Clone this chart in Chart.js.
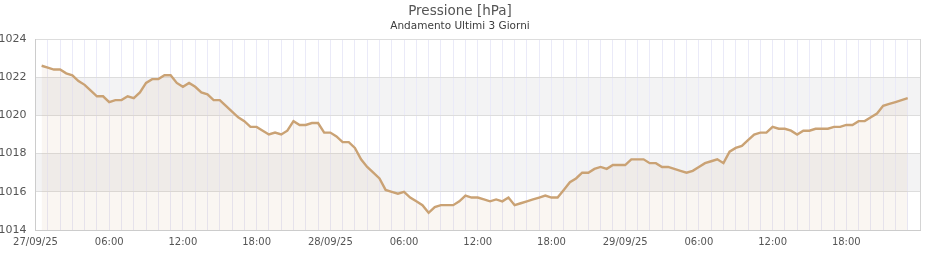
<!DOCTYPE html>
<html>
<head>
<meta charset="utf-8">
<script src="https://cdn.jsdelivr.net/npm/chart.js@4.4.1/dist/chart.umd.min.js"></script>
<style>
    html, body { margin: 0; padding: 0; background: #ffffff; }
    #wrap { width: 940px; height: 260px; }
</style>
</head>
<body>
<div id="wrap"><canvas id="pressChart" width="940" height="260"></canvas></div>
<script>
// pressione ogni 30 minuti, dalle 00:30 del 27/09/25
const startHour = 0.5;
const stepHours = 0.5;
const pressure = [
    1022.6, 1022.5, 1022.4, 1022.4, 1022.2, 1022.1, 1021.8, 1021.6, 1021.3, 1021.0,
    1021.0, 1020.7, 1020.8, 1020.8, 1021.0, 1020.9, 1021.2, 1021.7, 1021.9, 1021.9,
    1022.1, 1022.1, 1021.7, 1021.5, 1021.7, 1021.5, 1021.2, 1021.1, 1020.8, 1020.8,
    1020.5, 1020.2, 1019.9, 1019.7, 1019.4, 1019.4, 1019.2, 1019.0, 1019.1, 1019.0,
    1019.2, 1019.7, 1019.5, 1019.5, 1019.6, 1019.6, 1019.1, 1019.1, 1018.9, 1018.6,
    1018.6, 1018.3, 1017.7, 1017.3, 1017.0, 1016.7, 1016.1, 1016.0, 1015.9, 1016.0,
    1015.7, 1015.5, 1015.3, 1014.9, 1015.2, 1015.3, 1015.3, 1015.3, 1015.5, 1015.8,
    1015.7, 1015.7, 1015.6, 1015.5, 1015.6, 1015.5, 1015.7, 1015.3, 1015.4, 1015.5,
    1015.6, 1015.7, 1015.8, 1015.7, 1015.7, 1016.1, 1016.5, 1016.7, 1017.0, 1017.0,
    1017.2, 1017.3, 1017.2, 1017.4, 1017.4, 1017.4, 1017.7, 1017.7, 1017.7, 1017.5,
    1017.5, 1017.3, 1017.3, 1017.2, 1017.1, 1017.0, 1017.1, 1017.3, 1017.5, 1017.6,
    1017.7, 1017.5, 1018.1, 1018.3, 1018.4, 1018.7, 1019.0, 1019.1, 1019.1, 1019.4,
    1019.3, 1019.3, 1019.2, 1019.0, 1019.2, 1019.2, 1019.3, 1019.3, 1019.3, 1019.4,
    1019.4, 1019.5, 1019.5, 1019.7, 1019.7, 1019.9, 1020.1, 1020.5, 1020.6, 1020.7,
    1020.8, 1020.9
];
const tickLabels = ['27/09/25', '06:00', '12:00', '18:00', '28/09/25', '06:00', '12:00', '18:00',
                    '29/09/25', '06:00', '12:00', '18:00'];
const bands = [[1020, 1022], [1016, 1018]];

const points = pressure.map((v, i) => ({ x: startHour + i * stepHours, y: v }));

// fasce grigie alternate dietro la griglia
const bandPlugin = {
    id: 'bands',
    beforeDraw(chart) {
        const ctx = chart.ctx;
        const area = chart.chartArea;
        const y = chart.scales.y;
        ctx.save();
        ctx.fillStyle = '#f3f3f4';
        bands.forEach(b => {
            const top = y.getPixelForValue(b[1]);
            const bottom = y.getPixelForValue(b[0]);
            ctx.fillRect(area.left, top, area.right - area.left, bottom - top);
        });
        ctx.restore();
    }
};

const ctx = document.getElementById('pressChart').getContext('2d');
const pressChart = new Chart(ctx, {
    type: 'line',
    data: {
        datasets: [{
            data: points,
            borderColor: '#caa274',
            backgroundColor: 'rgba(200, 160, 112, 0.09)',
            borderWidth: 2.4,
            pointRadius: 0,
            tension: 0,
            fill: 'start'
        }]
    },
    options: {
        responsive: false,
        animation: false,
        layout: { padding: { left: 0, right: 20, top: 0, bottom: 0 } },
        plugins: {
            legend: { display: false },
            tooltip: { enabled: false },
            title: {
                display: true,
                text: 'Pressione [hPa]',
                color: '#555555',
                font: { family: 'DejaVu Sans', size: 13.5, weight: 'normal' },
                padding: { top: 3, bottom: 1 }
            },
            subtitle: {
                display: true,
                text: 'Andamento Ultimi 3 Giorni',
                color: '#3c3c3c',
                font: { family: 'DejaVu Sans', size: 10.5 },
                padding: { top: 0, bottom: 6.2 }
            }
        },
        scales: {
            x: {
                type: 'linear',
                min: 0,
                max: 72,
                afterFit: scale => { scale.height = 30; },
                ticks: {
                    stepSize: 1,
                    maxTicksLimit: 100,
                    autoSkip: false,
                    maxRotation: 0,
                    padding: 6,
                    color: '#555555',
                    font: { family: 'DejaVu Sans', size: 10 },
                    callback: v => (v % 6 === 0 && tickLabels[v / 6]) ? tickLabels[v / 6] : ''
                },
                grid: {
                    drawTicks: false,
                    color: c => (c.tick && c.tick.value === 72) ? '#d4d4d4' : '#eaeaf8'
                },
                border: { color: '#cccccc' }
            },
            y: {
                min: 1014,
                max: 1024,
                afterFit: scale => { scale.width = 35.5; },
                ticks: {
                    stepSize: 2,
                    padding: 9,
                    color: '#555555',
                    font: { family: 'DejaVu Sans', size: 11 },
                    callback: v => String(v)
                },
                grid: {
                    drawTicks: false,
                    color: '#dddddd'
                },
                border: { color: '#cccccc' }
            }
        }
    },
    plugins: [bandPlugin]
});
</script>
</body>
</html>
